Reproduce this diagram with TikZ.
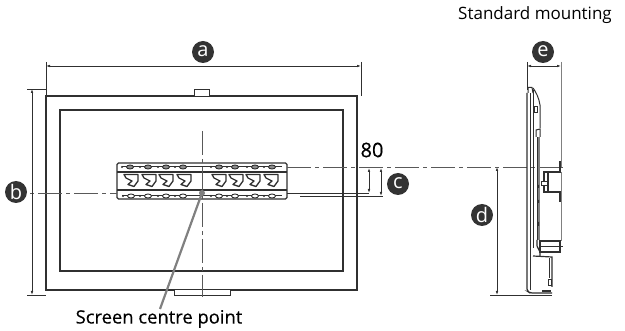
\documentclass[tikz,border=0pt]{standalone}
\usepackage{fontspec}
\setmainfont{Open Sans}
\newfontfamily\medfont[FakeBold=0.35]{Open Sans}
\usetikzlibrary{arrows.meta}
\definecolor{ink}{HTML}{303030}
\definecolor{badgec}{HTML}{333333}
\tikzset{
  x=1pt,y=-1pt,
  tvline/.style={draw=ink,line width=1.5pt},
  thin line/.style={draw=ink,line width=0.7pt},
  dimline/.style={draw=ink,line width=0.7pt,{Latex[length=4pt,width=2.6pt]}-{Latex[length=4pt,width=2.6pt]}},
  extline/.style={draw=ink,line width=0.7pt},
  centreline/.style={draw=ink!80,line width=0.9pt,dash pattern=on 24pt off 4pt on 4pt off 4pt},
  badge/.style={circle,fill=badgec,text=white,inner sep=0pt,minimum size=22pt,font=\fontsize{20}{20}\selectfont},
  caption/.style={inner sep=0pt,text=black},
  pointer/.style={draw=black!50,line width=2.2pt},
}
\begin{document}
\begin{tikzpicture}
\useasboundingbox (0,0) rectangle (625,331);
% nodes
\node[caption,font=\fontsize{17}{18}\selectfont] (std) at (535,15) {Standard mounting};
\node[caption,font=\medfont\fontsize{18.4}{19}\selectfont] (scp) at (159,319) {Screen centre point};
\node[caption,font=\medfont\fontsize{20}{20}\selectfont] (n80) at (372,150) {80};
\node[badge] (a) at (203,52) {\raisebox{1pt}{a}};
\node[badge] (b) at (16,192) {b};
\node[badge] (c) at (398,184) {\raisebox{1pt}{c}};
\node[badge] (d) at (482,215) {d};
\node[badge] (e) at (543,52) {\raisebox{1pt}{e}};
% TV front
\draw[tvline] (46,96) rectangle (357,290);
\draw[tvline] (60,110) rectangle (343,271);
\draw[thin line,fill=white] (194,96) -- (194,89.5) -- (209,89.5) -- (209,96);
\draw[thin line,fill=white] (174,290) -- (174,295) -- (230,295) -- (230,290);
% bracket
\draw[thin line,fill=white,line width=1.1pt,rounded corners=1.5pt] (117,163) rectangle (287,199);
\draw[thin line,line width=1.1pt] (117,172) -- (287,172) (117,190) -- (287,190);
\foreach \hx in {133,151,168,186,221,238,255,273}{
  \draw[thin line,line width=1.3pt,line join=round] (\hx-9,174.5) -- (\hx+5,174.5) -- (\hx+5,181) -- (\hx+1,186.5) -- (\hx-5,184.5) -- (\hx-1,181) -- (\hx-7,178) -- cycle;
}
\draw[thin line,line width=1pt] (122,167)--(282,167) (122,196)--(282,196);
\foreach \ox in {130,148,166,183,219,235,255,272}{
  \draw[thin line,line width=0.9pt,fill=black!45] (\ox,167) ellipse (3.5pt and 2pt);
  \fill[ink] (\ox-8,167) circle (1.2pt);
}
\foreach \ox in {131,148,166,183,219,235,255,272}{
  \draw[thin line,line width=0.9pt,fill=white] (\ox,196) ellipse (3.5pt and 2pt);
  \fill[ink] (\ox-8,196) circle (1.2pt);
}
% centre lines
\coordinate (cvt) at (202,131);
\coordinate (cvb) at (202,297);
\coordinate (chl) at (30,193);
\coordinate (chr) at (369,193);
\coordinate (cul) at (287,167);
\coordinate (cur) at (563,167);
\draw[centreline] (cvt) -- (cvb);
\draw[centreline,dash pattern=on 4pt off 4pt on 24pt off 4pt] (chl) -- (117,193);
\draw[extline] (287,193) -- (chr);
\draw[extline] (300,196) -- (383,196);
\draw[centreline] (cul) -- (cur);
% pointer
\coordinate (cp) at (202,193);
\fill[black!50] (cp) circle (3pt);
\draw[pointer] (cp) -- (160,309);
% dims
\coordinate (a1) at (46,66); \coordinate (a2) at (361,66);
\draw[extline] (46,62) -- (46,96) (361,62) -- (361,96);
\draw[dimline] (a1) -- (a2);
\coordinate (b1) at (32,89); \coordinate (b2) at (32,295);
\draw[extline] (27,89) -- (46,89) (27,295) -- (46,295);
\draw[dimline] (b1) -- (b2);
\draw[dimline] (369,168) -- (369,193);
\draw[dimline] (381,168) -- (381,196);
\coordinate (d1) at (497,167); \coordinate (d2) at (497,295);
\draw[dimline] (d1) -- (d2);
\draw[extline] (490,295.5) -- (552,295.5);
\coordinate (e1) at (527,66); \coordinate (e2) at (561,66);
\draw[dimline] (e1) -- (e2);
\draw[extline] (527,62) -- (527,90);
\draw[draw=black!50,line width=0.9pt] (561,62) -- (561,167);
% side view
\draw[tvline,line width=1.2pt,rounded corners=2pt] (527,93) -- (527,291) -- (530,293) -- (552,293);
\draw[thin line,line width=0.9pt] (530,92) -- (530,290) (533,90) -- (533,248);
\draw[thin line,line width=1pt,fill=white] (528,93) -- (528,87.5) -- (532,87.5) -- (533,93);
\draw[thin line,line width=1pt] (533,88) .. controls (536,92) and (539,98) .. (540,105) -- (540,128);
\draw[thin line,line width=1pt] (534,107) rectangle (537,113);
\draw[thin line,line width=1pt] (536,137) -- (536,130) -- (540,129) -- (540,137);
\fill[black!50] (537,137) rectangle (540,240);
\draw[thin line,line width=0.6pt] (537,137) -- (537,240);
\fill[ink] (537,185) rectangle (539,188) (537,200) rectangle (539,203) (537,222) rectangle (539,226);
\draw[draw=black!50,line width=0.9pt] (561,172) -- (561,241);
\draw[tvline,line width=1.3pt] (560,161) -- (560,172) -- (544,172) -- (544,192) -- (560,192) -- (560,202);
\draw[thin line,line width=1.1pt] (548,172) -- (548,192);
\draw[thin line,line width=1pt,fill=white] (541,182) rectangle (547,186);
\draw[thin line,line width=1.1pt] (540,241) rectangle (560,252);
\draw[thin line,line width=0.6pt] (540,246) -- (563,246);
\draw[thin line,line width=1.1pt,rounded corners=2pt] (537,240) -- (537,248) -- (540,250) -- (540,256);
\draw[tvline,line width=1.2pt] (533,256) -- (552,257) -- (552,287);
\draw[thin line,line width=0.9pt] (549,258) -- (549,278);
\draw[thin line,line width=0.9pt] (548,279) rectangle (551,285);
\draw[thin line,line width=1.5pt] (542,291) -- (551,291);
\end{tikzpicture}
\end{document}
